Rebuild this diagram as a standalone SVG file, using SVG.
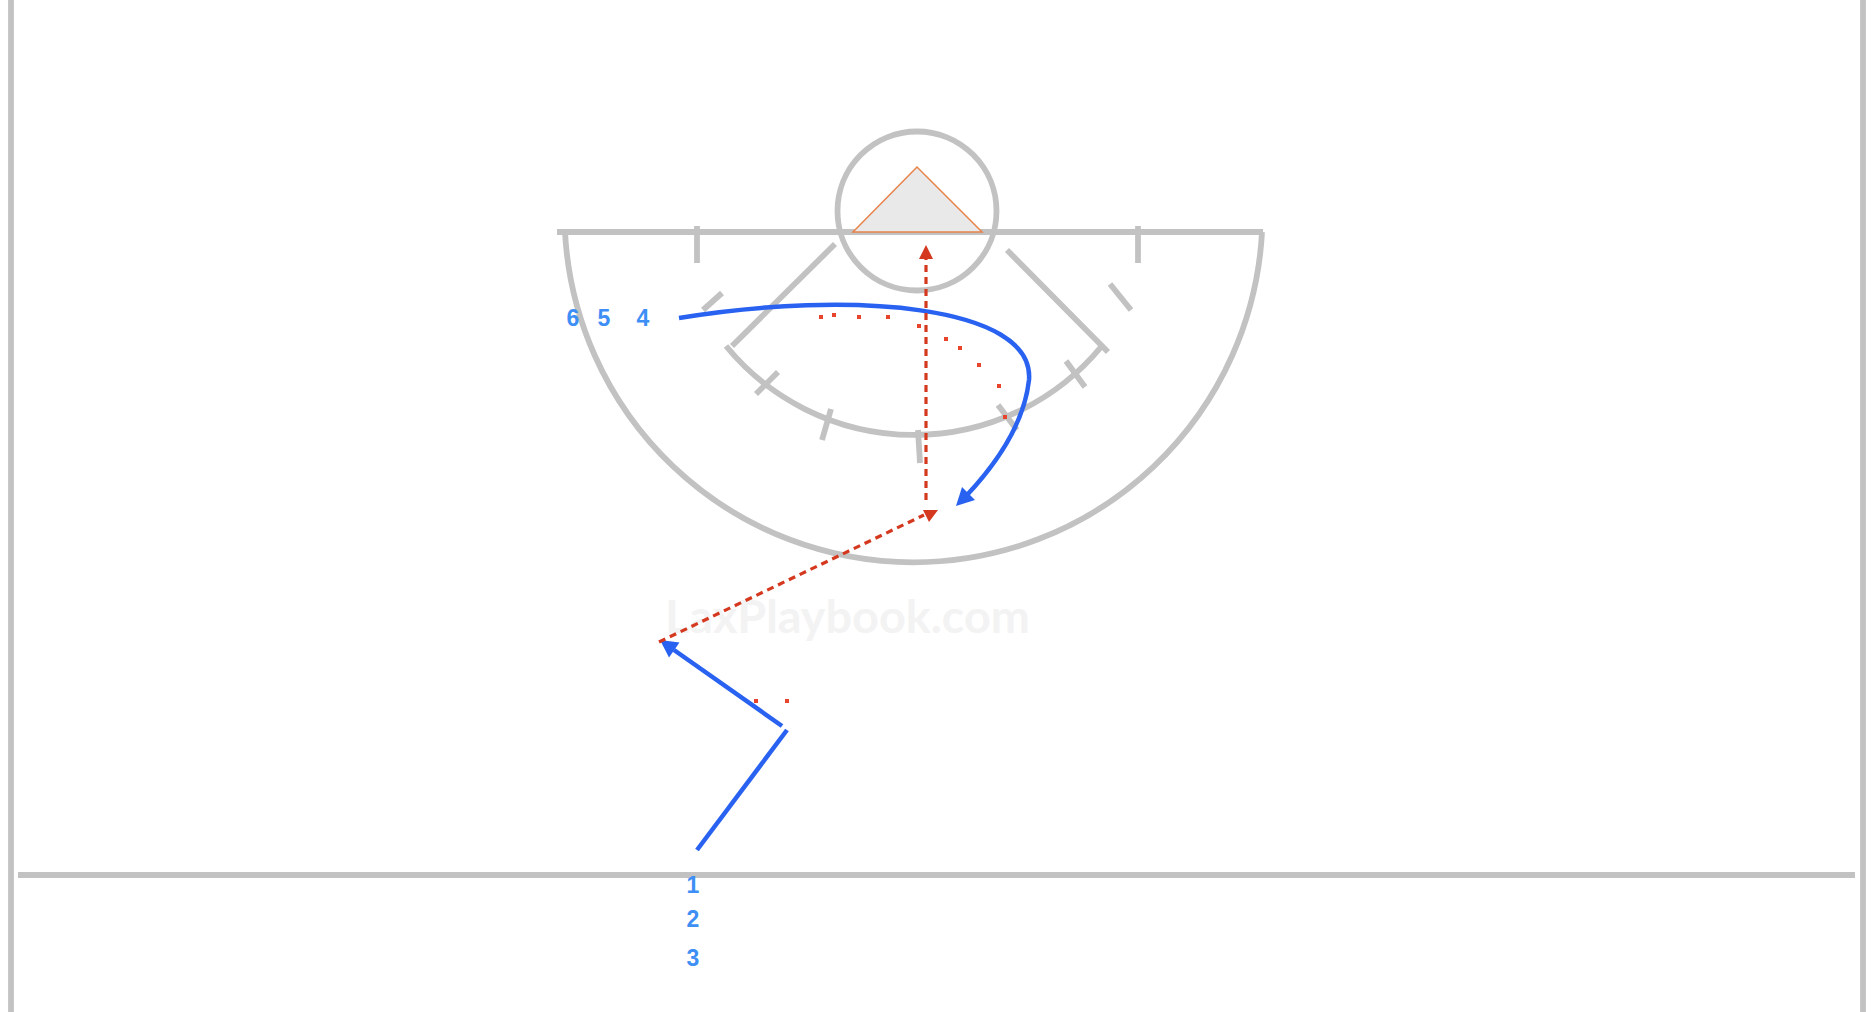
<svg xmlns="http://www.w3.org/2000/svg" width="1872" height="1012" viewBox="0 0 1872 1012">
<style>
.fld{fill:none;stroke:#c2c2c2;stroke-width:5.8}
.blu{fill:none;stroke:#2962f0;stroke-width:4.5}
.bluh{fill:#2962f0}
.red{fill:none;stroke:#d4391f;stroke-width:3.2;stroke-dasharray:7 5}
.redh{fill:#d4391f}
.dot{fill:#e8432b}
.lbl{font-family:"Liberation Sans",Arial,sans-serif;font-weight:bold;font-size:23px;fill:#3d8ef5;text-anchor:middle}
.wm{font-family:"Lato","Liberation Sans",sans-serif;font-weight:bold;font-size:46px;fill:#f3f3f3}
</style>
<rect width="1872" height="1012" fill="#ffffff"/>
<text class="wm" x="665" y="633" textLength="365" lengthAdjust="spacingAndGlyphs">LaxPlaybook.com</text>
<g id="field">
<line class="fld" x1="11" y1="0" x2="11" y2="1012"/>
<line class="fld" x1="1863" y1="0" x2="1863" y2="1012"/>
<line class="fld" x1="18" y1="875" x2="1855" y2="875"/>
<line class="fld" x1="557" y1="232" x2="1263" y2="232"/>
<path class="fld" d="M565,232 A349,349 0 0 0 1262,232"/>
<circle class="fld" cx="917" cy="211" r="79.5"/>
<line class="fld" x1="697" y1="226" x2="697" y2="263"/>
<line class="fld" x1="1138" y1="226" x2="1138" y2="263"/>
<line class="fld" x1="835" y1="244" x2="732" y2="346"/>
<line class="fld" x1="1007" y1="250" x2="1108" y2="352"/>
<path class="fld" d="M726,346 A243,243 0 0 0 1101,347"/>
<line class="fld" x1="722" y1="293" x2="703" y2="310"/>
<line class="fld" x1="1110" y1="284" x2="1131" y2="310"/>
<line class="fld" x1="778" y1="372" x2="756" y2="394"/>
<line class="fld" x1="831" y1="409" x2="822" y2="440"/>
<line class="fld" x1="918" y1="430" x2="920" y2="463"/>
<line class="fld" x1="998" y1="405" x2="1017" y2="430"/>
<line class="fld" x1="1066" y1="361" x2="1085" y2="387"/>
</g>
<g id="goal">
<polygon points="917,167 853,232 982,232" fill="#e9e9e9" stroke="#e8834a" stroke-width="1.5"/>
</g>
<g id="connectors">
<path class="blu" d="M679,318 C850,290 1035,305 1029,380 C1024,425 995,465 967,495"/>
<polygon class="bluh" points="956,506 975,500 962,487"/>
<line class="blu" x1="697" y1="850" x2="787" y2="730"/>
<line class="blu" x1="782" y1="726" x2="674" y2="650"/>
<polygon class="bluh" points="660,640 679.5,642.5 669,657.5"/>
<line class="red" x1="926" y1="500" x2="926" y2="258"/>
<polygon class="redh" points="926,245 919,259 933,259"/>
<line class="red" x1="659" y1="642" x2="924" y2="515"/>
<polygon class="redh" points="923,510 938,510 929,522"/>
<g id="dodge-path">
<rect class="dot" x="819" y="315" width="4" height="4"/>
<rect class="dot" x="832" y="313" width="4" height="4"/>
<rect class="dot" x="857" y="315" width="4" height="4"/>
<rect class="dot" x="886" y="315" width="4" height="4"/>
<rect class="dot" x="917" y="324" width="4" height="4"/>
<rect class="dot" x="944" y="337" width="4" height="4"/>
<rect class="dot" x="958" y="346" width="4" height="4"/>
<rect class="dot" x="977" y="363" width="4" height="4"/>
<rect class="dot" x="997" y="384" width="4" height="4"/>
<rect class="dot" x="1003" y="415" width="4" height="4"/>
<rect class="dot" x="754" y="699" width="4" height="4"/>
<rect class="dot" x="785" y="699" width="4" height="4"/>
</g>
</g>
<g id="labels-top">
<text class="lbl" x="573" y="326">6</text>
<text class="lbl" x="604" y="326">5</text>
<text class="lbl" x="643" y="326">4</text>
</g>
<g id="labels-bottom">
<text class="lbl" x="693" y="893">1</text>
<text class="lbl" x="693" y="927">2</text>
<text class="lbl" x="693" y="966">3</text>
</g>
</svg>
